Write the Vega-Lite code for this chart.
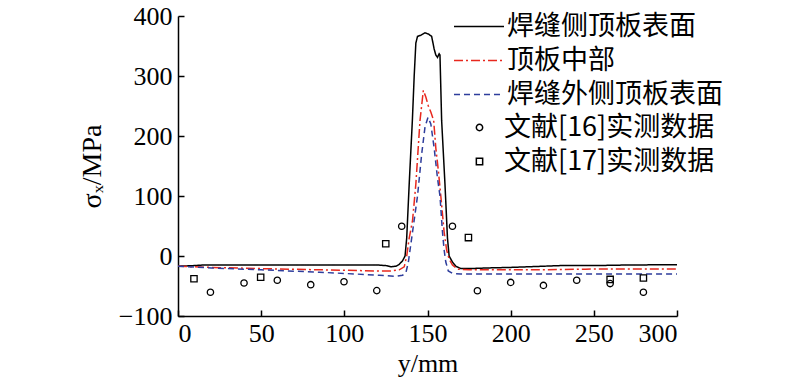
{
  "$schema": "https://vega.github.io/schema/vega-lite/v6.json",
  "autosize": {"type": "none"},
  "width": 499,
  "height": 300,
  "padding": {"left": 178, "top": 16, "right": 123, "bottom": 69},
  "background": "white",
  "config": {
    "view": {"stroke": null},
    "axis": {
      "grid": false,
      "domainColor": "black",
      "domainWidth": 1.5,
      "tickColor": "black",
      "tickWidth": 1.5,
      "tickSize": -6,
      "labelFont": "Liberation Serif",
      "labelFontSize": 26,
      "labelColor": "black",
      "titleFont": "Liberation Serif",
      "titleFontSize": 26,
      "titleFontWeight": "normal",
      "titleColor": "black"
    },
    "legend": {
      "labelFont": "Noto Sans CJK SC",
      "labelFontSize": 27,
      "labelColor": "black",
      "labelLimit": 0,
      "orient": "none"
    }
  },
  "datasets": {
    "curves": [
      {"series": "焊缝侧顶板表面", "y": 0, "s": -17},
      {"series": "焊缝侧顶板表面", "y": 10, "s": -16},
      {"series": "焊缝侧顶板表面", "y": 15, "s": -15},
      {"series": "焊缝侧顶板表面", "y": 60, "s": -15},
      {"series": "焊缝侧顶板表面", "y": 120, "s": -15},
      {"series": "焊缝侧顶板表面", "y": 125, "s": -16},
      {"series": "焊缝侧顶板表面", "y": 128, "s": -18},
      {"series": "焊缝侧顶板表面", "y": 131, "s": -17},
      {"series": "焊缝侧顶板表面", "y": 133, "s": -14},
      {"series": "焊缝侧顶板表面", "y": 135, "s": -8},
      {"series": "焊缝侧顶板表面", "y": 136.5, "s": 0},
      {"series": "焊缝侧顶板表面", "y": 137.5, "s": 30},
      {"series": "焊缝侧顶板表面", "y": 139, "s": 120},
      {"series": "焊缝侧顶板表面", "y": 140.9, "s": 226},
      {"series": "焊缝侧顶板表面", "y": 142, "s": 300},
      {"series": "焊缝侧顶板表面", "y": 143, "s": 355},
      {"series": "焊缝侧顶板表面", "y": 144, "s": 366},
      {"series": "焊缝侧顶板表面", "y": 146, "s": 368},
      {"series": "焊缝侧顶板表面", "y": 148.5, "s": 372},
      {"series": "焊缝侧顶板表面", "y": 150.5, "s": 370},
      {"series": "焊缝侧顶板表面", "y": 152.5, "s": 366},
      {"series": "焊缝侧顶板表面", "y": 154, "s": 345},
      {"series": "焊缝侧顶板表面", "y": 155, "s": 335},
      {"series": "焊缝侧顶板表面", "y": 156, "s": 331},
      {"series": "焊缝侧顶板表面", "y": 157, "s": 337},
      {"series": "焊缝侧顶板表面", "y": 157.5, "s": 335},
      {"series": "焊缝侧顶板表面", "y": 158.5, "s": 226},
      {"series": "焊缝侧顶板表面", "y": 160.5, "s": 120},
      {"series": "焊缝侧顶板表面", "y": 162, "s": 30},
      {"series": "焊缝侧顶板表面", "y": 163, "s": 0},
      {"series": "焊缝侧顶板表面", "y": 165, "s": -10},
      {"series": "焊缝侧顶板表面", "y": 167, "s": -17},
      {"series": "焊缝侧顶板表面", "y": 170, "s": -21},
      {"series": "焊缝侧顶板表面", "y": 175, "s": -21},
      {"series": "焊缝侧顶板表面", "y": 185, "s": -20},
      {"series": "焊缝侧顶板表面", "y": 200, "s": -19},
      {"series": "焊缝侧顶板表面", "y": 230, "s": -16},
      {"series": "焊缝侧顶板表面", "y": 250, "s": -16},
      {"series": "焊缝侧顶板表面", "y": 270, "s": -15},
      {"series": "焊缝侧顶板表面", "y": 300, "s": -14.5},
      {"series": "顶板中部", "y": 0, "s": -17},
      {"series": "顶板中部", "y": 20, "s": -19},
      {"series": "顶板中部", "y": 50, "s": -21},
      {"series": "顶板中部", "y": 85, "s": -23},
      {"series": "顶板中部", "y": 121, "s": -25},
      {"series": "顶板中部", "y": 128, "s": -25},
      {"series": "顶板中部", "y": 133, "s": -23},
      {"series": "顶板中部", "y": 136, "s": -18},
      {"series": "顶板中部", "y": 137.5, "s": 0},
      {"series": "顶板中部", "y": 139, "s": 30},
      {"series": "顶板中部", "y": 141, "s": 59},
      {"series": "顶板中部", "y": 143, "s": 120},
      {"series": "顶板中部", "y": 145.5, "s": 226},
      {"series": "顶板中部", "y": 147.5, "s": 276},
      {"series": "顶板中部", "y": 149, "s": 265},
      {"series": "顶板中部", "y": 150.5, "s": 250},
      {"series": "顶板中部", "y": 152, "s": 240},
      {"series": "顶板中部", "y": 153.7, "s": 226},
      {"series": "顶板中部", "y": 155, "s": 180},
      {"series": "顶板中部", "y": 156.5, "s": 143},
      {"series": "顶板中部", "y": 158, "s": 100},
      {"series": "顶板中部", "y": 160, "s": 40},
      {"series": "顶板中部", "y": 161.5, "s": 10},
      {"series": "顶板中部", "y": 163, "s": -5},
      {"series": "顶板中部", "y": 165, "s": -15},
      {"series": "顶板中部", "y": 168, "s": -22},
      {"series": "顶板中部", "y": 175, "s": -23},
      {"series": "顶板中部", "y": 220, "s": -23},
      {"series": "顶板中部", "y": 245, "s": -22},
      {"series": "顶板中部", "y": 250, "s": -21.5},
      {"series": "顶板中部", "y": 300, "s": -21.5},
      {"series": "焊缝外侧顶板表面", "y": 0, "s": -17},
      {"series": "焊缝外侧顶板表面", "y": 20, "s": -20},
      {"series": "焊缝外侧顶板表面", "y": 50, "s": -23},
      {"series": "焊缝外侧顶板表面", "y": 85, "s": -27},
      {"series": "焊缝外侧顶板表面", "y": 121, "s": -32},
      {"series": "焊缝外侧顶板表面", "y": 131, "s": -34},
      {"series": "焊缝外侧顶板表面", "y": 135, "s": -32},
      {"series": "焊缝外侧顶板表面", "y": 137, "s": -28},
      {"series": "焊缝外侧顶板表面", "y": 138.5, "s": -10},
      {"series": "焊缝外侧顶板表面", "y": 139.5, "s": 10},
      {"series": "焊缝外侧顶板表面", "y": 141.5, "s": 50},
      {"series": "焊缝外侧顶板表面", "y": 144, "s": 100},
      {"series": "焊缝外侧顶板表面", "y": 146.5, "s": 170},
      {"series": "焊缝外侧顶板表面", "y": 148.5, "s": 215},
      {"series": "焊缝外侧顶板表面", "y": 150.3, "s": 231},
      {"series": "焊缝外侧顶板表面", "y": 152, "s": 220},
      {"series": "焊缝外侧顶板表面", "y": 154, "s": 180},
      {"series": "焊缝外侧顶板表面", "y": 156, "s": 130},
      {"series": "焊缝外侧顶板表面", "y": 157.5, "s": 100},
      {"series": "焊缝外侧顶板表面", "y": 159, "s": 40},
      {"series": "焊缝外侧顶板表面", "y": 160, "s": 10},
      {"series": "焊缝外侧顶板表面", "y": 161, "s": -10},
      {"series": "焊缝外侧顶板表面", "y": 162.5, "s": -25},
      {"series": "焊缝外侧顶板表面", "y": 165, "s": -29},
      {"series": "焊缝外侧顶板表面", "y": 170, "s": -30},
      {"series": "焊缝外侧顶板表面", "y": 300, "s": -30}
    ],
    "points": [
      {"src": "文献[16]实测数据", "y": 19.5, "s": -60.5},
      {"src": "文献[16]实测数据", "y": 39.7, "s": -45},
      {"src": "文献[16]实测数据", "y": 59.7, "s": -40.5},
      {"src": "文献[16]实测数据", "y": 79.8, "s": -47.8},
      {"src": "文献[16]实测数据", "y": 99.8, "s": -43},
      {"src": "文献[16]实测数据", "y": 119.5, "s": -57.7},
      {"src": "文献[16]实测数据", "y": 134.5, "s": 49.5},
      {"src": "文献[16]实测数据", "y": 165, "s": 49.5},
      {"src": "文献[16]实测数据", "y": 180, "s": -58},
      {"src": "文献[16]实测数据", "y": 200, "s": -44},
      {"src": "文献[16]实测数据", "y": 219.7, "s": -49},
      {"src": "文献[16]实测数据", "y": 239.7, "s": -40.5},
      {"src": "文献[16]实测数据", "y": 259.8, "s": -46},
      {"src": "文献[16]实测数据", "y": 279.8, "s": -60.5},
      {"src": "文献[17]实测数据", "y": 9.6, "s": -38},
      {"src": "文献[17]实测数据", "y": 49.7, "s": -35.5},
      {"src": "文献[17]实测数据", "y": 124.9, "s": 20.5},
      {"src": "文献[17]实测数据", "y": 174.6, "s": 30.7},
      {"src": "文献[17]实测数据", "y": 259.8, "s": -39},
      {"src": "文献[17]实测数据", "y": 279.8, "s": -36.7}
    ]
  },
  "encoding": {
    "x": {
      "field": "y", "type": "quantitative",
      "scale": {"domain": [0, 300], "nice": false},
      "axis": {"values": [0, 50, 100, 150, 200, 250, 300], "title": "y/mm", "labelPadding": 10, "titlePadding": 4}
    },
    "y": {
      "field": "s", "type": "quantitative",
      "scale": {"domain": [-100, 400], "nice": false},
      "axis": {"values": [-100, 0, 100, 200, 300, 400], "title": "σₓ/MPa", "titleFontSize": 28, "labelPadding": 12, "titlePadding": 12}
    }
  },
  "layer": [
    {
      "data": {"name": "curves"},
      "mark": {"type": "line", "strokeWidth": 1.5, "clip": true},
      "encoding": {
        "color": {
          "field": "series", "type": "nominal",
          "scale": {"domain": ["焊缝侧顶板表面", "顶板中部", "焊缝外侧顶板表面"], "range": ["black", "#e8281e", "#2e3d9c"]},
          "legend": {"legendX": 287.5, "legendY": -3, "symbolType": "M-2,0H2", "symbolSize": 625, "symbolStrokeWidth": 1.5, "labelOffset": 14.5, "rowPadding": 6, "title": null}
        },
        "strokeDash": {
          "field": "series", "type": "nominal",
          "scale": {"domain": ["焊缝侧顶板表面", "顶板中部", "焊缝外侧顶板表面"], "range": [[1, 0], [9, 3, 2, 3], [6, 4]]},
          "legend": {"legendX": 287.5, "legendY": -3, "symbolType": "M-2,0H2", "symbolSize": 625, "symbolStrokeWidth": 1.5, "labelOffset": 14.5, "rowPadding": 6, "title": null}
        }
      }
    },
    {
      "data": {"name": "points"},
      "mark": {"type": "point", "filled": false, "color": "black", "strokeWidth": 1.3, "size": 40, "opacity": 1},
      "encoding": {
        "shape": {
          "field": "src", "type": "nominal",
          "scale": {"domain": ["文献[16]实测数据", "文献[17]实测数据"], "range": ["circle", "square"]},
          "legend": {"legendX": 288, "legendY": 98, "labelOffset": 11, "rowPadding": 6, "title": null, "symbolStrokeColor": "black", "symbolSize": 40}
        }
      }
    }
  ]
}
